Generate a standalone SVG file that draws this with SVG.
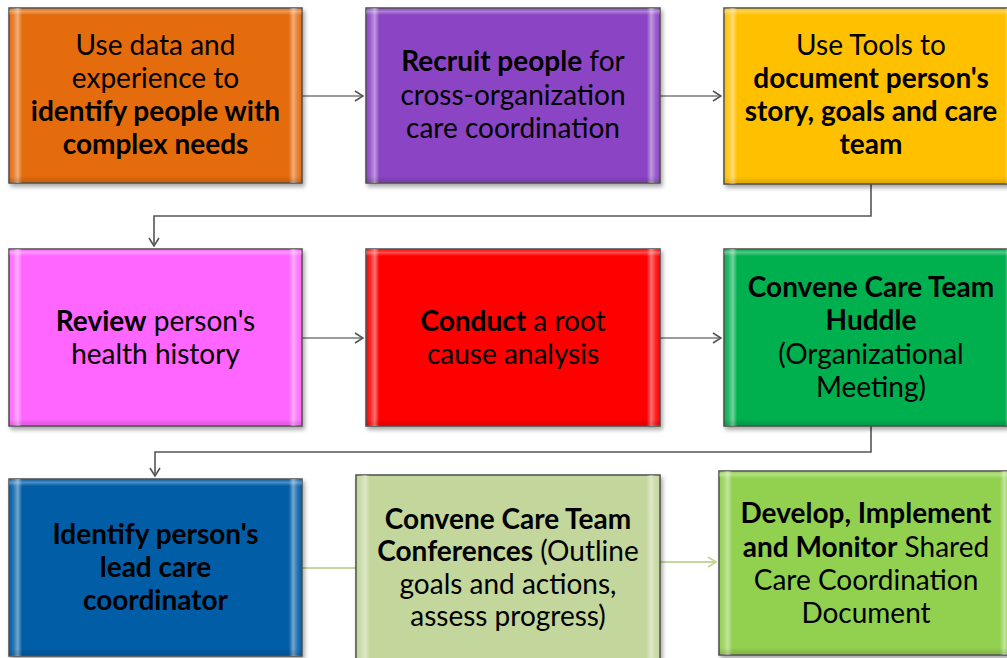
<svg xmlns="http://www.w3.org/2000/svg" width="1007" height="658" viewBox="0 0 1007 658">
<defs>
<style>
.box{stroke:#4d4d4d;stroke-width:1.5}
.t{font-family:Lato,"Liberation Sans",sans-serif;font-size:28px;fill:#000;text-anchor:middle}
.b{font-weight:bold}
.conn{fill:none;stroke:#7a7a7a;stroke-width:1.6}
.elbow{fill:none;stroke:#555;stroke-width:1.6}
.pale{fill:none;stroke:#c3d69b;stroke-width:2}
</style>
<linearGradient id="bevel" x1="0" y1="0" x2="1" y2="0">
<stop offset="0" stop-color="#fff" stop-opacity="0"/>
<stop offset="0.015" stop-color="#fff" stop-opacity="0.15"/>
<stop offset="0.03" stop-color="#fff" stop-opacity="0.45"/>
<stop offset="0.045" stop-color="#fff" stop-opacity="0"/>
<stop offset="0.955" stop-color="#fff" stop-opacity="0"/>
<stop offset="0.97" stop-color="#fff" stop-opacity="0.45"/>
<stop offset="0.985" stop-color="#fff" stop-opacity="0.15"/>
<stop offset="1" stop-color="#fff" stop-opacity="0"/>
</linearGradient>
<linearGradient id="bevelv" x1="0" y1="0" x2="0" y2="1">
<stop offset="0" stop-color="#fff" stop-opacity="0"/>
<stop offset="0.02" stop-color="#fff" stop-opacity="0.3"/>
<stop offset="0.04" stop-color="#fff" stop-opacity="0"/>
<stop offset="0.96" stop-color="#000" stop-opacity="0"/>
<stop offset="0.99" stop-color="#000" stop-opacity="0.12"/>
<stop offset="1" stop-color="#000" stop-opacity="0"/>
</linearGradient>
<filter id="sh" x="-5%" y="-5%" width="112%" height="112%">
<feDropShadow dx="2" dy="3" stdDeviation="2" flood-color="#000" flood-opacity="0.35"/>
</filter>
<marker id="ah" viewBox="0 0 10 12" refX="9" refY="6" markerWidth="10" markerHeight="12" markerUnits="userSpaceOnUse" orient="auto">
<path d="M1,1 L9,6 L1,11" fill="none" stroke="#555" stroke-width="1.6"/>
</marker>
<marker id="ahp" viewBox="0 0 10 12" refX="9" refY="6" markerWidth="10" markerHeight="12" markerUnits="userSpaceOnUse" orient="auto">
<path d="M1,1 L9,6 L1,11" fill="none" stroke="#c3d69b" stroke-width="1.8"/>
</marker>
</defs>
<rect width="1007" height="658" fill="#fff"/>

<g id="connectors">
<line class="conn" x1="302" y1="96" x2="363" y2="96" marker-end="url(#ah)"/>
<line class="conn" x1="660" y1="96" x2="721" y2="96" marker-end="url(#ah)"/>
<polyline class="elbow" points="871,184 871,216 154,216 154,246" marker-end="url(#ah)"/>
<line class="conn" x1="302" y1="338" x2="363" y2="338" marker-end="url(#ah)"/>
<line class="conn" x1="660" y1="338" x2="721" y2="338" marker-end="url(#ah)"/>
<polyline class="elbow" points="871,426 871,452 155,452 155,476" marker-end="url(#ah)"/>
<line class="pale" x1="302" y1="568" x2="356" y2="568"/>
<line class="pale" x1="660" y1="562" x2="716" y2="562" marker-end="url(#ahp)"/>
</g>

<g id="n1">
<rect class="box" x="9" y="8" width="293" height="175" fill="#e46c0a" filter="url(#sh)"/>
<rect x="9" y="8" width="293" height="175" fill="url(#bevel)"/>
<rect x="9" y="8" width="293" height="175" fill="url(#bevelv)"/>
<text class="t" x="155.5" y="55">Use data and</text>
<text class="t" x="155.5" y="88">experience to</text>
<text class="t b" x="155.5" y="121">identify people with</text>
<text class="t b" x="155.5" y="154">complex needs</text>
</g>

<g id="n2">
<rect class="box" x="366" y="8" width="294" height="175" fill="#8b44c4" filter="url(#sh)"/>
<rect x="366" y="8" width="294" height="175" fill="url(#bevel)"/>
<rect x="366" y="8" width="294" height="175" fill="url(#bevelv)"/>
<text class="t" x="513" y="71"><tspan class="b">Recruit people</tspan> for</text>
<text class="t" x="513" y="105">cross-organization</text>
<text class="t" x="513" y="138">care coordination</text>
</g>

<g id="n3">
<rect class="box" x="724" y="8" width="294" height="176" fill="#ffc000" filter="url(#sh)"/>
<rect x="724" y="8" width="294" height="176" fill="url(#bevel)"/>
<rect x="724" y="8" width="294" height="176" fill="url(#bevelv)"/>
<text class="t" x="871" y="55">Use Tools to</text>
<text class="t b" x="871" y="88">document person's</text>
<text class="t b" x="871" y="121">story, goals and care</text>
<text class="t b" x="871" y="154">team</text>
</g>

<g id="n4">
<rect class="box" x="9" y="249" width="293" height="177" fill="#ff66ff" filter="url(#sh)"/>
<rect x="9" y="249" width="293" height="177" fill="url(#bevel)"/>
<rect x="9" y="249" width="293" height="177" fill="url(#bevelv)"/>
<text class="t" x="155.5" y="331"><tspan class="b">Review</tspan> person's</text>
<text class="t" x="155.5" y="364">health history</text>
</g>

<g id="n5">
<rect class="box" x="366" y="249" width="294" height="177" fill="#ff0000" filter="url(#sh)"/>
<rect x="366" y="249" width="294" height="177" fill="url(#bevel)"/>
<rect x="366" y="249" width="294" height="177" fill="url(#bevelv)"/>
<text class="t" x="513" y="331"><tspan class="b">Conduct</tspan> a root</text>
<text class="t" x="513" y="364">cause analysis</text>
</g>

<g id="n6">
<rect class="box" x="724" y="249" width="294" height="177" fill="#00b050" filter="url(#sh)"/>
<rect x="724" y="249" width="294" height="177" fill="url(#bevel)"/>
<rect x="724" y="249" width="294" height="177" fill="url(#bevelv)"/>
<text class="t b" x="871" y="297">Convene Care Team</text>
<text class="t b" x="871" y="330">Huddle</text>
<text class="t" x="871" y="364">(Organizational</text>
<text class="t" x="871" y="397">Meeting)</text>
</g>

<g id="n7">
<rect class="box" x="9" y="479" width="293" height="177" fill="#005da6" filter="url(#sh)"/>
<rect x="9" y="479" width="293" height="177" fill="url(#bevel)"/>
<rect x="9" y="479" width="293" height="177" fill="url(#bevelv)"/>
<text class="t b" x="155.5" y="544">Identify person's</text>
<text class="t b" x="155.5" y="577">lead care</text>
<text class="t b" x="155.5" y="610">coordinator</text>
</g>

<g id="n8">
<rect class="box" x="356" y="475" width="304" height="186" fill="#c3d69b" filter="url(#sh)"/>
<rect x="356" y="475" width="304" height="186" fill="url(#bevel)"/>
<text class="t b" x="508" y="529">Convene Care Team</text>
<text class="t" x="508" y="561"><tspan class="b">Conferences</tspan> (Outline</text>
<text class="t" x="508" y="594">goals and actions,</text>
<text class="t" x="508" y="626">assess progress)</text>
</g>

<g id="n9">
<rect class="box" x="719" y="471" width="294" height="184" fill="#92d050" filter="url(#sh)"/>
<rect x="719" y="471" width="294" height="184" fill="url(#bevel)"/>
<rect x="719" y="471" width="294" height="184" fill="url(#bevelv)"/>
<text class="t b" x="866" y="523">Develop, Implement</text>
<text class="t" x="866" y="557"><tspan class="b">and Monitor</tspan> Shared</text>
<text class="t" x="866" y="590">Care Coordination</text>
<text class="t" x="866" y="623">Document</text>
</g>
</svg>
